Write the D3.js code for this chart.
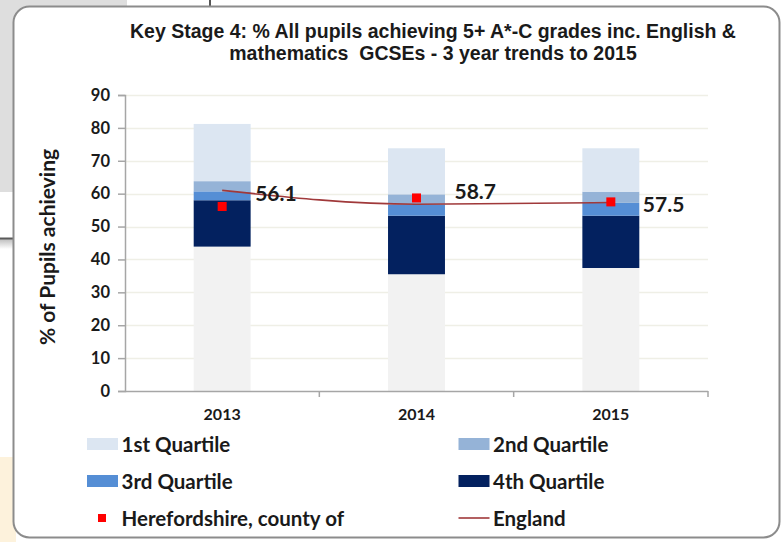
<!DOCTYPE html>
<html>
<head>
<meta charset="utf-8">
<script src="https://cdn.jsdelivr.net/npm/d3@7"></script>
<style>
  html, body { margin: 0; padding: 0; background: #ffffff; }
  svg { display: block; }
</style>
</head>
<body>
<svg id="chart" width="783" height="542"></svg>
<script>
// ---- data ----
const years = ["2013", "2014", "2015"];
const baseVals = [43.9, 35.5, 37.4];      // below 4th quartile (grey base)
const q4Vals = [14.1, 17.8, 15.9];        // 4th Quartile
const q3Vals = [2.7, 3.4, 3.9];           // 3rd Quartile
const q2Vals = [3.1, 3.1, 3.4];           // 2nd Quartile
const q1Vals = [17.4, 14.0, 13.2];        // 1st Quartile
const herefordVals = [56.1, 58.7, 57.5];  // Herefordshire, county of
const englandVals = [61.0, 56.8, 57.3];   // England
const yTickVals = [0, 10, 20, 30, 40, 50, 60, 70, 80, 90];
const titleLines = ["Key Stage 4: % All pupils achieving 5+ A*-C grades inc. English &",
                    "mathematics  GCSEs - 3 year trends to 2015"];
const yTitle = "% of Pupils achieving";

// ---- layout / style (not data) ----
const labelNudge = [[33, -14], [38, -7], [32, 2]];
const font = "Lato, 'Open Sans', sans-serif";
const colors = { base: "#f2f2f2", q4: "#03215f", q3: "#558ed5", q2: "#95b3d7", q1: "#dce6f2" };

const svg = d3.select("#chart");

// ---- background screenshot context ----
svg.append("rect").attr("x", 0).attr("y", 0).attr("width", 783).attr("height", 542).attr("fill", "#ffffff");
svg.append("rect").attr("x", 0).attr("y", 0).attr("width", 127).attr("height", 192).attr("fill", "#dedede");
svg.append("rect").attr("x", 0).attr("y", 457).attr("width", 16).attr("height", 85).attr("fill", "#fdf2dc");
svg.append("line").attr("x1", 210).attr("x2", 210).attr("y1", 0).attr("y2", 8).attr("stroke", "#555").attr("stroke-width", 2);
const defs = svg.append("defs");
const sg = defs.append("linearGradient").attr("id", "shade").attr("x1", 0).attr("x2", 0).attr("y1", 0).attr("y2", 1);
sg.append("stop").attr("offset", "0").attr("stop-color", "#bdbdbd");
sg.append("stop").attr("offset", "1").attr("stop-color", "#ffffff");
svg.append("rect").attr("x", 0).attr("y", 239).attr("width", 16).attr("height", 10).attr("fill", "url(#shade)");
svg.append("line").attr("x1", 0).attr("x2", 16).attr("y1", 238.5).attr("y2", 238.5).attr("stroke", "#5a5a5a").attr("stroke-width", 2);

// frame
svg.append("rect").attr("x", 13.5).attr("y", 6.5).attr("width", 766).attr("height", 531)
  .attr("rx", 16).attr("ry", 16).attr("fill", "#ffffff").attr("stroke", "#8c8c8c").attr("stroke-width", 2);

// ---- scales ----
const plot = { left: 125, right: 708, top: 95, bottom: 391 };
const x = d3.scaleBand().domain(years).range([plot.left, plot.right]).paddingInner(0.707).paddingOuter(0.3535);
const y = d3.scaleLinear().domain([0, 90]).range([plot.bottom, plot.top]);

// ---- title ----
svg.append("g").selectAll("text").data(titleLines).join("text")
  .attr("x", 433).attr("y", (d, i) => 38 + i * 21.5)
  .attr("text-anchor", "middle")
  .attr("font-family", "'Liberation Sans', Arial, sans-serif")
  .attr("font-weight", "bold").attr("font-size", 19.5).attr("fill", "#1a1a1a")
  .style("white-space", "pre")
  .text(d => d);

// ---- gridlines ----
svg.append("g").selectAll("line").data(yTickVals.filter(v => v > 0)).join("line")
  .attr("x1", plot.left).attr("x2", plot.right)
  .attr("y1", d => Math.round(y(d)) + 0.5).attr("y2", d => Math.round(y(d)) + 0.5)
  .attr("stroke", "#efefe6").attr("stroke-width", 1.5);

// ---- stacked bars ----
const rows = years.map((yr, i) => ({ year: yr, base: baseVals[i], q4: q4Vals[i], q3: q3Vals[i], q2: q2Vals[i], q1: q1Vals[i] }));
const keys = ["base", "q4", "q3", "q2", "q1"];
const stacked = d3.stack().keys(keys)(rows);
svg.append("g").selectAll("g").data(stacked).join("g")
  .attr("fill", d => colors[d.key])
  .selectAll("rect").data(d => d).join("rect")
  .attr("x", d => x(d.data.year))
  .attr("width", x.bandwidth())
  .attr("y", d => y(d[1]))
  .attr("height", d => y(d[0]) - y(d[1]));

// ---- axes ----
const yAxis = d3.axisLeft(y).tickValues(yTickVals).tickSize(7).tickPadding(8);
const gy = svg.append("g").attr("transform", `translate(${plot.left},0)`).call(yAxis);
gy.select(".domain").attr("stroke", "#a6a6a6").attr("stroke-width", 1.5);
gy.selectAll(".tick line").attr("stroke", "#a6a6a6").attr("stroke-width", 1.5);
gy.selectAll(".tick text").attr("font-family", font).attr("font-weight", "bold")
  .attr("font-size", 16.5).attr("fill", "#1a1a1a");

const gx = svg.append("g").attr("transform", `translate(0,${plot.bottom})`);
gx.append("line").attr("x1", plot.left).attr("x2", plot.right).attr("y1", 0.5).attr("y2", 0.5)
  .attr("stroke", "#a6a6a6").attr("stroke-width", 1.5);
const boundaries = years.map(yr => x(yr) - x.step() * x.paddingInner() / 2).slice(1).concat([plot.right]);
gx.selectAll("line.tk").data(boundaries).join("line").attr("class", "tk")
  .attr("x1", d => d).attr("x2", d => d).attr("y1", 0).attr("y2", 6)
  .attr("stroke", "#a6a6a6").attr("stroke-width", 1.5);
gx.selectAll("text").data(years).join("text")
  .attr("x", d => x(d) + x.bandwidth() / 2).attr("y", 22)
  .attr("text-anchor", "middle").attr("dominant-baseline", "central")
  .attr("font-family", font).attr("font-weight", "bold").attr("font-size", 16).attr("fill", "#1a1a1a")
  .text(d => d);

// y title
svg.append("text")
  .attr("transform", `translate(46,${(plot.top + plot.bottom) / 2 + 4}) rotate(-90)`)
  .attr("text-anchor", "middle").attr("dominant-baseline", "central")
  .attr("font-family", font).attr("font-weight", "bold").attr("font-size", 21).attr("fill", "#1a1a1a")
  .text(yTitle);

// ---- England line ----
const cx = (i) => x(years[i]) + x.bandwidth() / 2;
svg.append("path").datum(englandVals)
  .attr("d", d3.line().x((d, i) => cx(i)).y(d => y(d)).curve(d3.curveMonotoneX))
  .attr("fill", "none").attr("stroke", "#a0393a").attr("stroke-width", 1.6);

// ---- Herefordshire markers and labels ----
svg.append("g").selectAll("rect").data(herefordVals).join("rect")
  .attr("x", (d, i) => cx(i) - 4.5).attr("y", d => y(d) - 4.5)
  .attr("width", 9).attr("height", 9).attr("fill", "#ff0000");
svg.append("g").selectAll("text").data(herefordVals).join("text")
  .attr("x", (d, i) => cx(i) + labelNudge[i][0])
  .attr("y", (d, i) => y(d) + labelNudge[i][1])
  .attr("dominant-baseline", "central")
  .attr("font-family", font).attr("font-weight", "bold").attr("font-size", 21).attr("fill", "#1a1a1a")
  .text(d => d3.format(".1f")(d));

// ---- legend ----
const legendItems = [
  { label: "1st Quartile", type: "swatch", color: colors.q1, col: 0, row: 0 },
  { label: "2nd Quartile", type: "swatch", color: colors.q2, col: 1, row: 0 },
  { label: "3rd Quartile", type: "swatch", color: colors.q3, col: 0, row: 1 },
  { label: "4th Quartile", type: "swatch", color: colors.q4, col: 1, row: 1 },
  { label: "Herefordshire, county of", type: "marker", color: "#ff0000", col: 0, row: 2 },
  { label: "England", type: "line", color: "#a0393a", col: 1, row: 2 }
];
const colX = [87, 458.5];
const rowY = [444, 481, 518];
const lg = svg.append("g").selectAll("g").data(legendItems).join("g")
  .attr("transform", d => `translate(${colX[d.col]},${rowY[d.row]})`);
lg.filter(d => d.type === "swatch").append("rect")
  .attr("x", 0).attr("y", -6).attr("width", 31).attr("height", 12).attr("fill", d => d.color);
lg.filter(d => d.type === "marker").append("rect")
  .attr("x", 11).attr("y", -4).attr("width", 8).attr("height", 8).attr("fill", d => d.color);
lg.filter(d => d.type === "line").append("line")
  .attr("x1", 0).attr("x2", 31).attr("y1", 0).attr("y2", 0).attr("stroke", d => d.color).attr("stroke-width", 1.6);
lg.append("text")
  .attr("x", 34.5).attr("y", 0).attr("dominant-baseline", "central")
  .attr("font-family", font).attr("font-weight", "bold").attr("font-size", 20.5).attr("fill", "#1a1a1a")
  .text(d => d.label);
</script>
</body>
</html>
